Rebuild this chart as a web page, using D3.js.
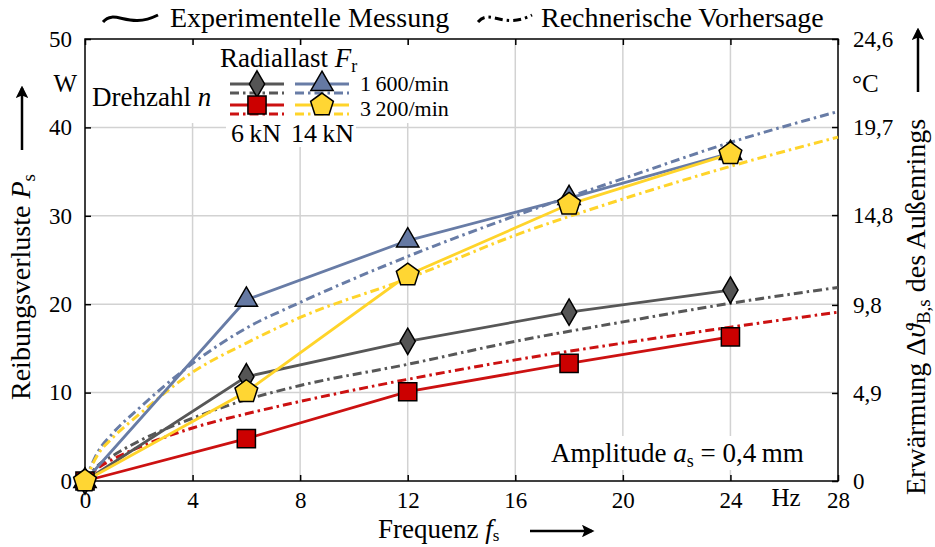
<html>
<meta charset="utf-8" />
<head>
<title>Reibungsverluste</title>
<script src="https://cdn.jsdelivr.net/npm/d3@7/dist/d3.min.js"></script>
<style>
	body { margin: 0; background: #fff; }
	svg { font-family: "Liberation Serif", "DejaVu Serif", serif; }
</style>
</head>
<body>
<svg width="935" height="547"></svg>
<script>
// Messwerte (Experimentelle Messung)
const measX = [0, 6, 12, 18, 24];
const grau6kN1600 = [0, 11.8, 15.8, 19.1, 21.6];
const blau14kN1600 = [0, 20.5, 27.2, 32.0, 37.1];
const rot6kN3200 = [0, 4.8, 10.1, 13.3, 16.3];
const gelb14kN3200 = [0, 10.1, 23.3, 31.3, 37.0];

// Rechnerische Vorhersage
const predX = [0, 0.5, 1, 2, 4, 6, 8, 12, 16, 20, 24, 28];
const predGrau = [0, 1.8, 2.8, 4.5, 7.1, 9.2, 10.8, 13.2, 15.8, 18.0, 20.1, 21.9];
const predBlau = [0, 3.4, 5.3, 8.2, 13.3, 17.3, 20.2, 25.4, 30.0, 34.2, 38.3, 41.8];
const predRot = [0, 1.5, 2.4, 3.8, 6.0, 7.6, 9.0, 11.5, 13.7, 15.6, 17.4, 19.1];
const predGelb = [0, 3.1, 4.8, 7.5, 12.3, 15.6, 18.5, 22.9, 27.8, 31.9, 35.6, 38.9];

// Achsen
const xTicks = [0, 4, 8, 12, 16, 20, 24, 28];
const yTicks = [0, 10, 20, 30, 40, 50];
const yRightTicks = [0, 4.9, 9.8, 14.8, 19.7, 24.6];

const svg = d3.select('svg');
const L = 85, R = 838, T = 39, B = 481;

let xScale = d3.scaleLinear().domain([0, 28]).range([L, R]);
let yScale = d3.scaleLinear().domain([0, 50]).range([B, T]);
let yRight = d3.scaleLinear().domain([0, 24.6]).range([B, T]);

// Gitter
svg.append('g').selectAll('line').data(xTicks.slice(1, -1)).enter().append('line')
	.attr('x1', d => xScale(d)).attr('x2', d => xScale(d))
	.attr('y1', T).attr('y2', B)
	.attr('stroke', '#d2d2d2').attr('stroke-width', 1.5);
svg.append('g').selectAll('line').data(yTicks.slice(1, -1)).enter().append('line')
	.attr('x1', L).attr('x2', R)
	.attr('y1', d => yScale(d)).attr('y2', d => yScale(d))
	.attr('stroke', '#d2d2d2').attr('stroke-width', 1.5);

// Achsen mit Ticks nach innen
function styleAxis(g) {
	g.select('.domain').remove();
	g.selectAll('line').attr('stroke', '#000').attr('stroke-width', 1.5);
	g.selectAll('text').attr('font-family', '"Liberation Serif", serif').attr('font-size', 23).attr('fill', '#000');
}
let comma = d => String(d).replace('.', ',');

svg.append('g').attr('transform', 'translate(0,' + B + ')')
	.call(d3.axisBottom(xScale).tickValues(xTicks).tickSize(-6).tickSizeOuter(0).tickPadding(11))
	.call(styleAxis);
svg.append('g').attr('transform', 'translate(0,' + T + ')')
	.call(d3.axisTop(xScale).tickValues(xTicks).tickSize(-6).tickSizeOuter(0).tickFormat(''))
	.call(styleAxis);
svg.append('g').attr('transform', 'translate(' + L + ',0)')
	.call(d3.axisLeft(yScale).tickValues(yTicks).tickSize(-6).tickSizeOuter(0).tickPadding(13))
	.call(styleAxis);
svg.append('g').attr('transform', 'translate(' + R + ',0)')
	.call(d3.axisRight(yRight).tickValues(yRightTicks).tickSize(-6).tickSizeOuter(0).tickPadding(15).tickFormat(comma))
	.call(styleAxis);

svg.append('rect').attr('x', L).attr('y', T).attr('width', R - L).attr('height', B - T)
	.attr('fill', 'none').attr('stroke', '#000').attr('stroke-width', 1.5);

// Einheiten
svg.append('text').attr('x', 77).attr('y', 92).attr('text-anchor', 'end').attr('font-size', 25).text('W');
svg.append('text').attr('x', 852).attr('y', 92).attr('font-size', 25).text('°C');
svg.append('text').attr('x', 786).attr('y', 506).attr('text-anchor', 'middle').attr('font-size', 25).text('Hz');

// Legenden-Hintergrund
svg.append('rect').attr('x', 88).attr('y', 45).attr('width', 392).attr('height', 78).attr('fill', '#fff');
svg.append('rect').attr('x', 226).attr('y', 121).attr('width', 130).attr('height', 26).attr('fill', '#fff');
svg.append('rect').attr('x', 545).attr('y', 436).attr('width', 276).attr('height', 34).attr('fill', '#fff');

// Symbole
const symbolPentagon = {
	draw(ctx, size) {
		let r = Math.sqrt(size / 2.378);
		for (let i = 0; i < 5; i++) {
			let a = -Math.PI / 2 + i * 2 * Math.PI / 5;
			if (i == 0) ctx.moveTo(r * Math.cos(a), r * Math.sin(a));
			else ctx.lineTo(r * Math.cos(a), r * Math.sin(a));
		}
		ctx.closePath();
	}
};

const series = [
	{ meas: grau6kN1600, pred: predGrau, color: '#575757', fill: '#555555', sym: d3.symbolDiamond, size: 200 },
	{ meas: blau14kN1600, pred: predBlau, color: '#687ca6', fill: '#6579a3', sym: d3.symbolTriangle, size: 215 },
	{ meas: rot6kN3200, pred: predRot, color: '#cc1111', fill: '#cc0000', sym: d3.symbolSquare, size: 330 },
	{ meas: gelb14kN3200, pred: predGelb, color: '#ffd42a', fill: '#ffd633', sym: symbolPentagon, size: 340 }
];
const dashDot = '9,4,2.5,4';

let measLine = d3.line().x((d, i) => xScale(measX[i])).y(d => yScale(d));
let predLine = d3.line().x((d, i) => xScale(predX[i])).y(d => yScale(d)).curve(d3.curveMonotoneX);

series.forEach(s => {
	svg.append('path').attr('d', predLine(s.pred)).attr('fill', 'none')
		.attr('stroke', s.color).attr('stroke-width', 3).attr('stroke-dasharray', dashDot);
});
series.forEach(s => {
	svg.append('path').attr('d', measLine(s.meas)).attr('fill', 'none')
		.attr('stroke', s.color).attr('stroke-width', 2.8);
});
series.forEach(s => {
	svg.append('g').selectAll('path').data(s.meas).enter().append('path')
		.attr('transform', (d, i) => 'translate(' + xScale(measX[i]) + ',' + yScale(d) + ')')
		.attr('d', d3.symbol().type(s.sym).size(s.size))
		.attr('fill', s.fill).attr('stroke', '#000').attr('stroke-width', 1.5);
});

// Innere Legende
const legPos = [[230, 84], [295, 84], [230, 105], [295, 105]];
series.forEach((s, i) => {
	let [lx, ly] = legPos[i];
	svg.append('line').attr('x1', lx).attr('x2', lx + 54).attr('y1', ly).attr('y2', ly)
		.attr('stroke', s.color).attr('stroke-width', 3);
	svg.append('line').attr('x1', lx).attr('x2', lx + 54).attr('y1', ly + 9).attr('y2', ly + 9)
		.attr('stroke', s.color).attr('stroke-width', 3).attr('stroke-dasharray', dashDot);
	svg.append('path').attr('transform', 'translate(' + (lx + 27) + ',' + ly + ')')
		.attr('d', d3.symbol().type(s.sym).size(s.size))
		.attr('fill', s.fill).attr('stroke', '#000').attr('stroke-width', 1.5);
});

let rad = svg.append('text').attr('x', 220).attr('y', 67).attr('font-size', 27);
rad.append('tspan').text('Radiallast ');
rad.append('tspan').attr('font-style', 'italic').text('F');
rad.append('tspan').attr('font-size', 18).attr('dy', 5).text('r');

let dreh = svg.append('text').attr('x', 92).attr('y', 106).attr('font-size', 27);
dreh.append('tspan').text('Drehzahl ');
dreh.append('tspan').attr('font-style', 'italic').text('n');

svg.append('text').attr('x', 360).attr('y', 91).attr('font-size', 22).text('1\u2009600/min');
svg.append('text').attr('x', 360).attr('y', 116).attr('font-size', 22).text('3\u2009200/min');
svg.append('text').attr('x', 231).attr('y', 142).attr('font-size', 26).text('6\u2009kN');
svg.append('text').attr('x', 291).attr('y', 142).attr('font-size', 26).text('14\u2009kN');

let amp = svg.append('text').attr('x', 551).attr('y', 462).attr('font-size', 27);
amp.append('tspan').text('Amplitude ');
amp.append('tspan').attr('font-style', 'italic').text('a');
amp.append('tspan').attr('font-size', 18).attr('dy', 5).text('s');
amp.append('tspan').attr('dy', -5).text(' = 0,4\u2009mm');

// Obere Legende
svg.append('path').attr('d', 'M103,22 C115,8 128,30 158,15').attr('fill', 'none')
	.attr('stroke', '#000').attr('stroke-width', 3);
svg.append('text').attr('x', 170).attr('y', 27).attr('font-size', 28).text('Experimentelle Messung');
svg.append('path').attr('d', 'M478,22 C490,8 503,30 532,15').attr('fill', 'none')
	.attr('stroke', '#000').attr('stroke-width', 3).attr('stroke-dasharray', '8,4,2.5,4');
svg.append('text').attr('x', 541).attr('y', 27).attr('font-size', 28).text('Rechnerische Vorhersage');

// Pfeile
svg.append('defs').append('marker').attr('id', 'arrow')
	.attr('viewBox', '0 0 10 10').attr('refX', 8).attr('refY', 5)
	.attr('markerWidth', 5).attr('markerHeight', 5).attr('orient', 'auto')
	.append('path').attr('d', 'M0,0 L10,5 L0,10 L2,5 Z').attr('fill', '#000');

function arrow(x1, y1, x2, y2) {
	svg.append('line').attr('x1', x1).attr('y1', y1).attr('x2', x2).attr('y2', y2)
		.attr('stroke', '#000').attr('stroke-width', 2.5).attr('marker-end', 'url(#arrow)');
}

// Achsentitel
let xt = svg.append('text').attr('x', 378).attr('y', 538).attr('font-size', 27);
xt.append('tspan').text('Frequenz ');
xt.append('tspan').attr('font-style', 'italic').text('f');
xt.append('tspan').attr('font-size', 17).attr('dy', 3).text('s');
arrow(530, 531, 592, 531);

let yt = svg.append('text').attr('transform', 'translate(30,400) rotate(-90)').attr('font-size', 28);
yt.append('tspan').text('Reibungsverluste ');
yt.append('tspan').attr('font-style', 'italic').text('P');
yt.append('tspan').attr('font-size', 19).attr('dy', 5).text('s');
arrow(22, 150, 22, 88);

let yr = svg.append('text').attr('transform', 'translate(925,495) rotate(-90)').attr('font-size', 28);
yr.append('tspan').text('Erwärmung Δ');
yr.append('tspan').attr('font-style', 'italic').text('ϑ');
yr.append('tspan').attr('font-size', 19).attr('dy', 5).text('B,s');
yr.append('tspan').attr('dy', -5).text(' des Außenrings');
arrow(918, 92, 918, 30);
</script>
</body>
</html>
